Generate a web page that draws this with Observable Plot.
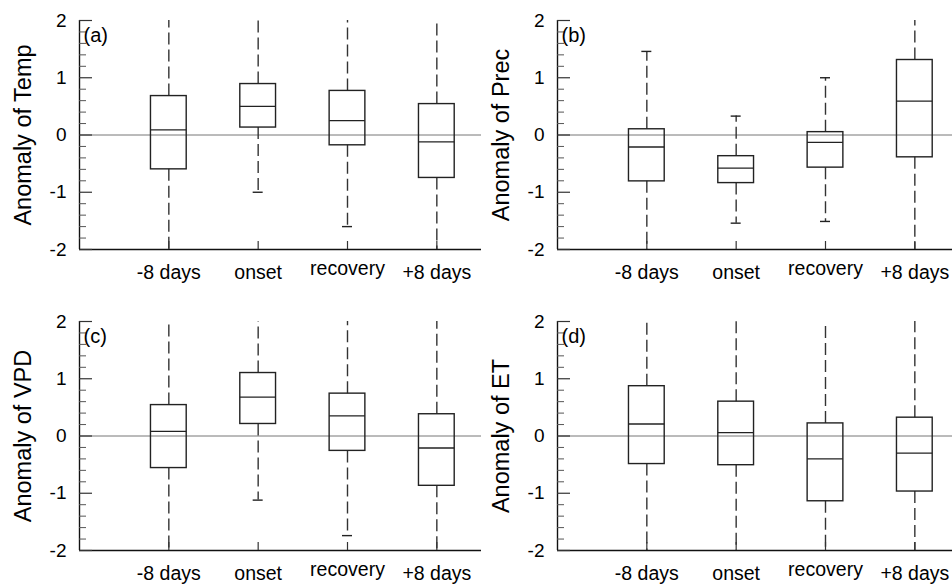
<!DOCTYPE html>
<html><head><meta charset="utf-8">
<script src="https://cdn.jsdelivr.net/npm/d3@7"></script>
<script src="https://cdn.jsdelivr.net/npm/@observablehq/plot@0.6"></script>
<style>
body{margin:0;background:#fff;overflow:hidden}
#wrap{position:relative;width:952px;height:588px;overflow:hidden;background:#fff}
#wrap > div{position:absolute}
#wrap svg{max-width:none !important}
</style></head><body><div id="wrap"></div>
<script>
const categories = ["-8 days", "onset", "recovery", "+8 days"];
const panelLabels = ["(a)", "(b)", "(c)", "(d)"];
const yTitles = ["Anomaly of Temp", "Anomaly of Prec", "Anomaly of VPD", "Anomaly of ET"];
const yTicks = [-2, -1, 0, 1, 2];

// box statistics per category (whisker ends beyond ±2 are clipped by the frame)
const tempLo  = [-2.4, -1.00, -1.60, -2.4];
const tempQ1  = [-0.60, 0.13, -0.18, -0.75];
const tempMed = [0.09, 0.50, 0.25, -0.12];
const tempQ3  = [0.68, 0.89, 0.77, 0.54];
const tempHi  = [2.4, 2.4, 2.4, 2.4];

const precLo  = [-2.4, -1.54, -1.51, -2.4];
const precQ1  = [-0.81, -0.84, -0.57, -0.39];
const precMed = [-0.21, -0.58, -0.13, 0.59];
const precQ3  = [0.10, -0.37, 0.05, 1.31];
const precHi  = [1.46, 0.33, 1.00, 2.4];

const vpdLo  = [-2.4, -1.12, -1.74, -2.4];
const vpdQ1  = [-0.56, 0.21, -0.26, -0.87];
const vpdMed = [0.08, 0.68, 0.35, -0.21];
const vpdQ3  = [0.54, 1.10, 0.74, 0.38];
const vpdHi  = [2.4, 2.4, 2.4, 2.4];

const etLo  = [-2.4, -2.4, -2.4, -2.4];
const etQ1  = [-0.49, -0.51, -1.14, -0.97];
const etMed = [0.21, 0.06, -0.40, -0.30];
const etQ3  = [0.87, 0.60, 0.22, 0.32];
const etHi  = [2.4, 2.4, 2.4, 2.4];

const stats = [
  [tempLo, tempQ1, tempMed, tempQ3, tempHi],
  [precLo, precQ1, precMed, precQ3, precHi],
  [vpdLo, vpdQ1, vpdMed, vpdQ3, vpdHi],
  [etLo, etQ1, etMed, etQ3, etHi]
];

const layout = [
  {left: 0,   top: 0,   width: 482, height: 290, mt: 20, mb: 41, ml: 79},
  {left: 476, top: 0,   width: 484, height: 290, mt: 20, mb: 41, ml: 81},
  {left: 0,   top: 290, width: 482, height: 298, mt: 31, mb: 38, ml: 79},
  {left: 476, top: 290, width: 484, height: 298, mt: 31, mb: 38, ml: 81}
];

const FONT = "Liberation Sans, Arial, Helvetica, sans-serif";
const minorTicks = d3.ticks(-2, 2, 20).filter(v => !yTicks.includes(v));
const wrap = document.getElementById("wrap");

stats.forEach((s, p) => {
  const [lo, q1, med, q3, hi] = s;
  const rows = categories.map((c, i) => ({x: i + 1, cat: c, lo: lo[i], q1: q1[i], med: med[i], q3: q3[i], hi: hi[i]}));
  const L = layout[p];
  const pxPerX = (L.width - L.ml - 1) / 4.5;
  const pxPerY = (L.height - L.mt - L.mb) / 4;
  const chart = Plot.plot({
    width: L.width,
    height: L.height,
    marginLeft: L.ml,
    marginRight: 1,
    marginTop: L.mt,
    marginBottom: L.mb,
    style: {fontFamily: FONT, background: "transparent", overflow: "visible", maxWidth: "none"},
    x: {type: "linear", domain: [0, 4.5], axis: null},
    y: {domain: [-2, 2], axis: null},
    marks: [
      Plot.ruleY([0], {stroke: "#777", strokeWidth: 1}),
      // whiskers
      Plot.ruleX(rows, {x: "x", y1: "q3", y2: "hi", stroke: "#333", strokeWidth: 1.4, strokeDasharray: "12,5", clip: true}),
      Plot.ruleX(rows, {x: "x", y1: "q1", y2: "lo", stroke: "#333", strokeWidth: 1.4, strokeDasharray: "12,5", clip: true}),
      // caps
      Plot.ruleY(rows.filter(d => d.hi < 2), {y: "hi", x1: d => d.x - 5 / pxPerX, x2: d => d.x + 5 / pxPerX, stroke: "#222", strokeWidth: 1.4}),
      Plot.ruleY(rows.filter(d => d.lo > -2), {y: "lo", x1: d => d.x - 5 / pxPerX, x2: d => d.x + 5 / pxPerX, stroke: "#222", strokeWidth: 1.4}),
      // boxes
      Plot.rect(rows, {x1: d => d.x - 0.2, x2: d => d.x + 0.2, y1: "q1", y2: "q3", fill: "none", stroke: "#222", strokeWidth: 1.4}),
      Plot.ruleY(rows, {y: "med", x1: d => d.x - 0.2, x2: d => d.x + 0.2, stroke: "#222", strokeWidth: 1.3}),
      // axes
      Plot.ruleX([0], {stroke: "#111", strokeWidth: 1.4}),
      Plot.ruleY([-2], {stroke: "#111", strokeWidth: 1.4}),
      Plot.ruleY(yTicks, {y: d => d, x1: 0, x2: 13 / pxPerX, stroke: "#333", strokeWidth: 1.2}),
      Plot.ruleY(minorTicks, {y: d => d, x1: 0, x2: 7 / pxPerX, stroke: "#555", strokeWidth: 1}),
      Plot.ruleX(rows, {x: "x", y1: -2, y2: -2 + 8 / pxPerY, stroke: "#333", strokeWidth: 1.2}),
      Plot.text(yTicks, {x: 0, y: d => d, text: d => String(d), dx: -13, textAnchor: "end", lineAnchor: "middle", fontSize: 19, fill: "#000"}),
      Plot.text(rows.filter(d => d.cat !== "recovery"), {x: "x", y: -2, text: "cat", dy: 23, lineAnchor: "middle", fontSize: 19.5, fill: "#000"}),
      Plot.text(rows.filter(d => d.cat === "recovery"), {x: "x", y: -2, text: "cat", dy: 19, lineAnchor: "middle", fontSize: 19.5, fill: "#000"}),
      Plot.text([yTitles[p]], {frameAnchor: "left", dx: -56, rotate: -90, textAnchor: "middle", lineAnchor: "middle", fontSize: 23.5, fill: "#000"}),
      Plot.text([panelLabels[p]], {frameAnchor: "top-left", dx: 4, dy: 15, textAnchor: "start", lineAnchor: "middle", fontSize: 20, fill: "#000"})
    ]
  });
  const holder = document.createElement("div");
  holder.style.left = L.left + "px";
  holder.style.top = L.top + "px";
  holder.style.width = L.width + "px";
  holder.style.height = L.height + "px";
  holder.appendChild(chart);
  wrap.appendChild(holder);
});
</script>
</body></html>
